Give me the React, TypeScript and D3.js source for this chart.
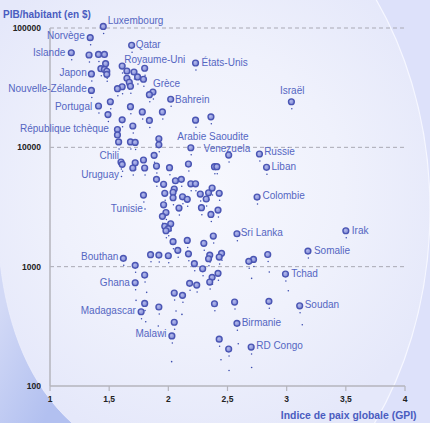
import React from "react";
import * as d3 from "d3";

// ---- data ----
const countries = [
  "Luxembourg", "Norvège", "Qatar", "Islande", "", "", "", "États-Unis", "", "Royaume-Uni",
  "", "", "", "", "", "", "", "Japon", "", "",
  "", "", "", "", "", "Nouvelle-Zélande", "Grèce", "", "Bahrein", "Israël",
  "", "", "Portugal", "", "", "", "", "", "", "",
  "", "République tchèque", "", "", "", "", "", "", "Arabie Saoudite", "Venezuela",
  "Russie", "Liban", "", "", "Chili", "", "", "", "", "",
  "", "", "", "", "", "", "", "", "", "",
  "", "", "", "", "", "", "", "", "", "",
  "", "", "Colombie", "", "", "", "", "", "", "",
  "", "", "", "", "", "", "", "", "", "",
  "", "", "Bouthan", "", "", "", "", "", "", "",
  "", "", "Sri Lanka", "", "", "Irak", "Somalie", "", "Ghana", "",
  "", "", "", "", "", "", "Tchad", "", "", "Madagascar",
  "", "Malawi", "", "", "", "Soudan", "Birmanie", "", "", "RD Congo",
];

const gpi = [
  1.45, 1.34, 1.69, 1.18, 1.33, 1.41, 1.46, 2.23, 1.47, 1.61,
  1.43, 1.46, 1.48, 1.48, 1.65, 1.71, 1.80, 1.35, 1.74, 1.79,
  1.65, 1.67, 1.68, 1.61, 1.57, 1.35, 1.87, 1.84, 2.02, 3.04,
  1.51, 1.68, 1.41, 1.78, 1.95, 1.49, 2.36, 1.61, 1.84, 2.23,
  1.70, 1.57, 1.57, 1.58, 1.68, 1.72, 1.92, 1.92, 2.19, 2.51,
  2.77, 2.83, 2.39, 2.41, 1.60, 1.61, 1.72, 1.79, 1.88, 1.70,
  1.80, 1.90, 2.01, 2.17, 1.90, 1.96, 2.06, 2.11, 2.19, 2.23,
  2.05, 2.04, 1.97, 2.12, 2.16, 1.79, 2.04, 2.27, 2.32, 2.34,
  2.37, 2.43, 2.75, 1.96, 2.09, 2.28, 2.42, 2.36, 1.98, 1.95,
  2.02, 1.97, 2.00, 1.98, 2.04, 2.16, 2.08, 2.17, 1.85, 1.92,
  2.00, 2.22, 1.62, 1.72, 2.29, 2.35, 2.34, 2.45, 2.43, 2.72,
  2.68, 2.84, 2.58, 2.38, 2.30, 3.50, 3.18, 1.80, 1.72, 2.05,
  2.12, 2.18, 2.24, 2.42, 2.37, 2.35, 2.99, 1.80, 1.92, 1.77,
  2.05, 2.03, 2.39, 2.56, 2.85, 3.11, 2.58, 2.43, 2.51, 2.70,
];

const gdp = [
  103000, 83000, 71600, 62000, 59400, 60000, 60000, 50900, 50200, 48000,
  45600, 45000, 43400, 40900, 43600, 42800, 46000, 41200, 38900, 37200,
  37900, 35100, 32500, 32200, 31000, 30000, 29100, 27600, 25300, 24100,
  24100, 21900, 22200, 19800, 19800, 18800, 18000, 17000, 16800, 16900,
  15100, 14100, 12700, 11100, 11100, 11000, 11800, 10500, 9920, 8620,
  8790, 6800, 6880, 6880, 7530, 7200, 7430, 7830, 8570, 6710,
  6710, 6970, 6750, 7240, 5390, 4900, 5250, 5390, 4950, 4950,
  4470, 4200, 4120, 3850, 3670, 3980, 3780, 4060, 3690, 4160,
  4560, 4120, 3830, 3300, 3100, 3120, 2980, 2740, 2840, 2640,
  2290, 2180, 2080, 2000, 1620, 1660, 1370, 1280, 1260, 1250,
  1235, 1060, 1174, 1026, 960, 1250, 1165, 1293, 1204, 1151,
  1108, 1264, 1887, 1805, 1569, 2000, 1351, 851, 733, 601,
  575, 725, 701, 879, 814, 743, 867, 492, 459, 419,
  342, 263, 489, 505, 512, 470, 335, 247, 204, 212,
];

// countries drawn only as a small dot
const minorNames = ["Uruguay", "Tunisie", "", "", "", "", "", "", "", "", "", "", "", "", "", "", ""];
const minorGpi = [1.604, 1.803, 2.704, 2.853, 3.014, 3.132, 2.591, 2.445, 2.513, 2.704, 2.028, 1.817, 2.115, 2.065, 1.915, 1.809, 1.727];
const minorGdp = [5690, 3040, 798, 901, 628, 326, 226, 166, 135, 143, 160, 609, 398, 425, 318, 345, 522];

const xTicks = [1, 1.5, 2, 2.5, 3, 3.5, 4];
const yTicks = [100, 1000, 10000, 100000];
const xTitle = "Indice de paix globale (GPI)";
const yTitle = "PIB/habitant (en $)";

// ---- label placement (relative to the point) ----
type LP = { dx: number; dy: number; a: "start" | "end" | "middle" };
const labelPos: Record<string, LP> = {
  Luxembourg: { dx: 4.5, dy: -6, a: "start" },
  "Norvège": { dx: -5.5, dy: -1.7, a: "end" },
  Islande: { dx: -6, dy: -0.7, a: "end" },
  Qatar: { dx: 4, dy: -1.3, a: "start" },
  "Royaume-Uni": { dx: 2, dy: -7, a: "start" },
  "États-Unis": { dx: 6, dy: 0, a: "start" },
  Japon: { dx: -4.7, dy: -1, a: "end" },
  "Nouvelle-Zélande": { dx: -4.7, dy: -2.3, a: "end" },
  "Grèce": { dx: 0, dy: -8, a: "start" },
  Bahrein: { dx: 4.3, dy: 0.7, a: "start" },
  "Israël": { dx: 0.8, dy: -11, a: "middle" },
  Portugal: { dx: -6.3, dy: 0, a: "end" },
  "République tchèque": { dx: -8.5, dy: -0.7, a: "end" },
  "Arabie Saoudite": { dx: -13.5, dy: -11, a: "start" },
  Venezuela: { dx: -1.8, dy: -6.5, a: "middle" },
  Russie: { dx: 4.7, dy: -2.5, a: "start" },
  Liban: { dx: 5, dy: -1, a: "start" },
  Chili: { dx: -2, dy: -7, a: "end" },
  Uruguay: { dx: -2.5, dy: -2.2, a: "end" },
  Tunisie: { dx: -2.3, dy: -0.7, a: "end" },
  Colombie: { dx: 5.4, dy: -1.7, a: "start" },
  "Sri Lanka": { dx: 3.7, dy: -1.4, a: "start" },
  Irak: { dx: 6, dy: 0, a: "start" },
  Somalie: { dx: 6, dy: -0.7, a: "start" },
  Bouthan: { dx: -5, dy: -2.3, a: "end" },
  Ghana: { dx: -5.3, dy: 0, a: "end" },
  Tchad: { dx: 5.7, dy: -0.7, a: "start" },
  Soudan: { dx: 5, dy: -1.4, a: "start" },
  Madagascar: { dx: -5.3, dy: -1.7, a: "end" },
  Birmanie: { dx: 4.7, dy: -0.6, a: "start" },
  Malawi: { dx: -5.3, dy: -2.5, a: "end" },
  "RD Congo": { dx: 5, dy: -1.3, a: "start" },
};

const W = 430;
const H = 423;
const FONT = "'Liberation Sans', Arial, Helvetica, sans-serif";
const LABEL = "#5566c2";
const TITLE = "#4a5cc0";

export default function App() {
  const x = d3.scaleLinear().domain([1, 4]).range([50, 405]);
  const y = d3.scaleLog().domain([100, 100000]).range([386, 28]);
  const fmtX = (v: number) => String(v).replace(".", ",");

  const pts = gpi.map((g, i) => ({ name: countries[i], cx: x(g), cy: y(gdp[i]) }));
  const minor = minorGpi.map((g, i) => ({ name: minorNames[i], cx: x(g), cy: y(minorGdp[i]) }));

  return (
    <svg
      width={W}
      height={H}
      style={{ position: "absolute", left: 0, top: 0, display: "block" }}
      fontFamily={FONT}
    >
      <defs>
        <radialGradient id="glow" cx="200" cy="190" r="260" gradientUnits="userSpaceOnUse">
          <stop offset="0" stopColor="#f7f8fe" />
          <stop offset="0.55" stopColor="#eff1fc" />
          <stop offset="1" stopColor="#e5e8fa" />
        </radialGradient>
        <linearGradient id="corner" x1="0" y1="0.3" x2="0.6" y2="1">
          <stop offset="0" stopColor="#d2d9f6" />
          <stop offset="1" stopColor="#b2c0f0" />
        </linearGradient>
        <radialGradient id="dotfill" cx="0.4" cy="0.4" r="0.6">
          <stop offset="0" stopColor="#b5bbec" />
          <stop offset="1" stopColor="#7f89d6" />
        </radialGradient>
      </defs>

      {/* background */}
      <rect x={0} y={0} width={W} height={H} fill="#dde1fa" />
      <ellipse cx={170} cy={210} rx={260} ry={345} fill="url(#glow)" stroke="#f6f7ff" strokeWidth={1.2} />
      <path d="M0,262 C8,330 30,385 72,423 L0,423 Z" fill="url(#corner)" />
      <path d="M0,262 C8,330 30,385 72,423" fill="none" stroke="#eef0fc" strokeWidth={1} opacity={0.7} />

      {/* grid */}
      {yTicks.slice(1).map((t) => (
        <line key={t} x1={50} x2={405} y1={y(t)} y2={y(t)} stroke="#a9a9b4" strokeWidth={1} strokeDasharray="4,3" />
      ))}

      {/* axes */}
      <line x1={50} x2={50} y1={y(100000)} y2={y(100)} stroke="#b4b4bc" strokeWidth={1.5} />
      <line x1={50} x2={405} y1={y(100)} y2={y(100)} stroke="#b4b4bc" strokeWidth={1.5} />
      {xTicks.map((t) => (
        <g key={t}>
          <line x1={x(t)} x2={x(t)} y1={y(100)} y2={y(100) + 5} stroke="#b4b4bc" strokeWidth={1.2} />
          <text x={x(t)} y={y(100) + 16} textAnchor="middle" fontSize={8.5} fontWeight="bold" fill="#222">
            {fmtX(t)}
          </text>
        </g>
      ))}
      {yTicks.map((t) => (
        <text key={t} x={41} y={y(t)} dy="0.35em" textAnchor="end" fontSize={8.5} fontWeight="bold" fill="#222">
          {t}
        </text>
      ))}

      {/* titles */}
      <text x={3} y={14.7} dy="0.35em" fontSize={10} fontWeight="bold" fill={TITLE}>
        {yTitle}
      </text>
      <text x={416.5} y={415.3} dy="0.35em" textAnchor="end" fontSize={10.4} fontWeight="bold" fill={TITLE}>
        {xTitle}
      </text>

      {/* shadow dots */}
      {pts.map((p, i) => (
        <circle key={"s" + i} cx={p.cx + 0.4} cy={p.cy + 7} r={0.75} fill="#3b4cae" />
      ))}
      {minor.map((p, i) => (
        <circle key={"m" + i} cx={p.cx} cy={p.cy} r={0.8} fill="#3b4cae" />
      ))}

      {/* points */}
      {pts.map((p, i) => (
        <circle key={"p" + i} cx={p.cx} cy={p.cy} r={2.9} fill="url(#dotfill)" stroke="#4a55b3" strokeWidth={1.4} />
      ))}

      {/* labels */}
      {[...pts, ...minor]
        .filter((p) => p.name && labelPos[p.name])
        .map((p) => {
          const lp = labelPos[p.name];
          return (
            <text
              key={"l" + p.name}
              x={p.cx + lp.dx}
              y={p.cy + lp.dy}
              dy="0.35em"
              textAnchor={lp.a}
              fontSize={10}
              fill={LABEL}
            >
              {p.name}
            </text>
          );
        })}
    </svg>
  );
}
